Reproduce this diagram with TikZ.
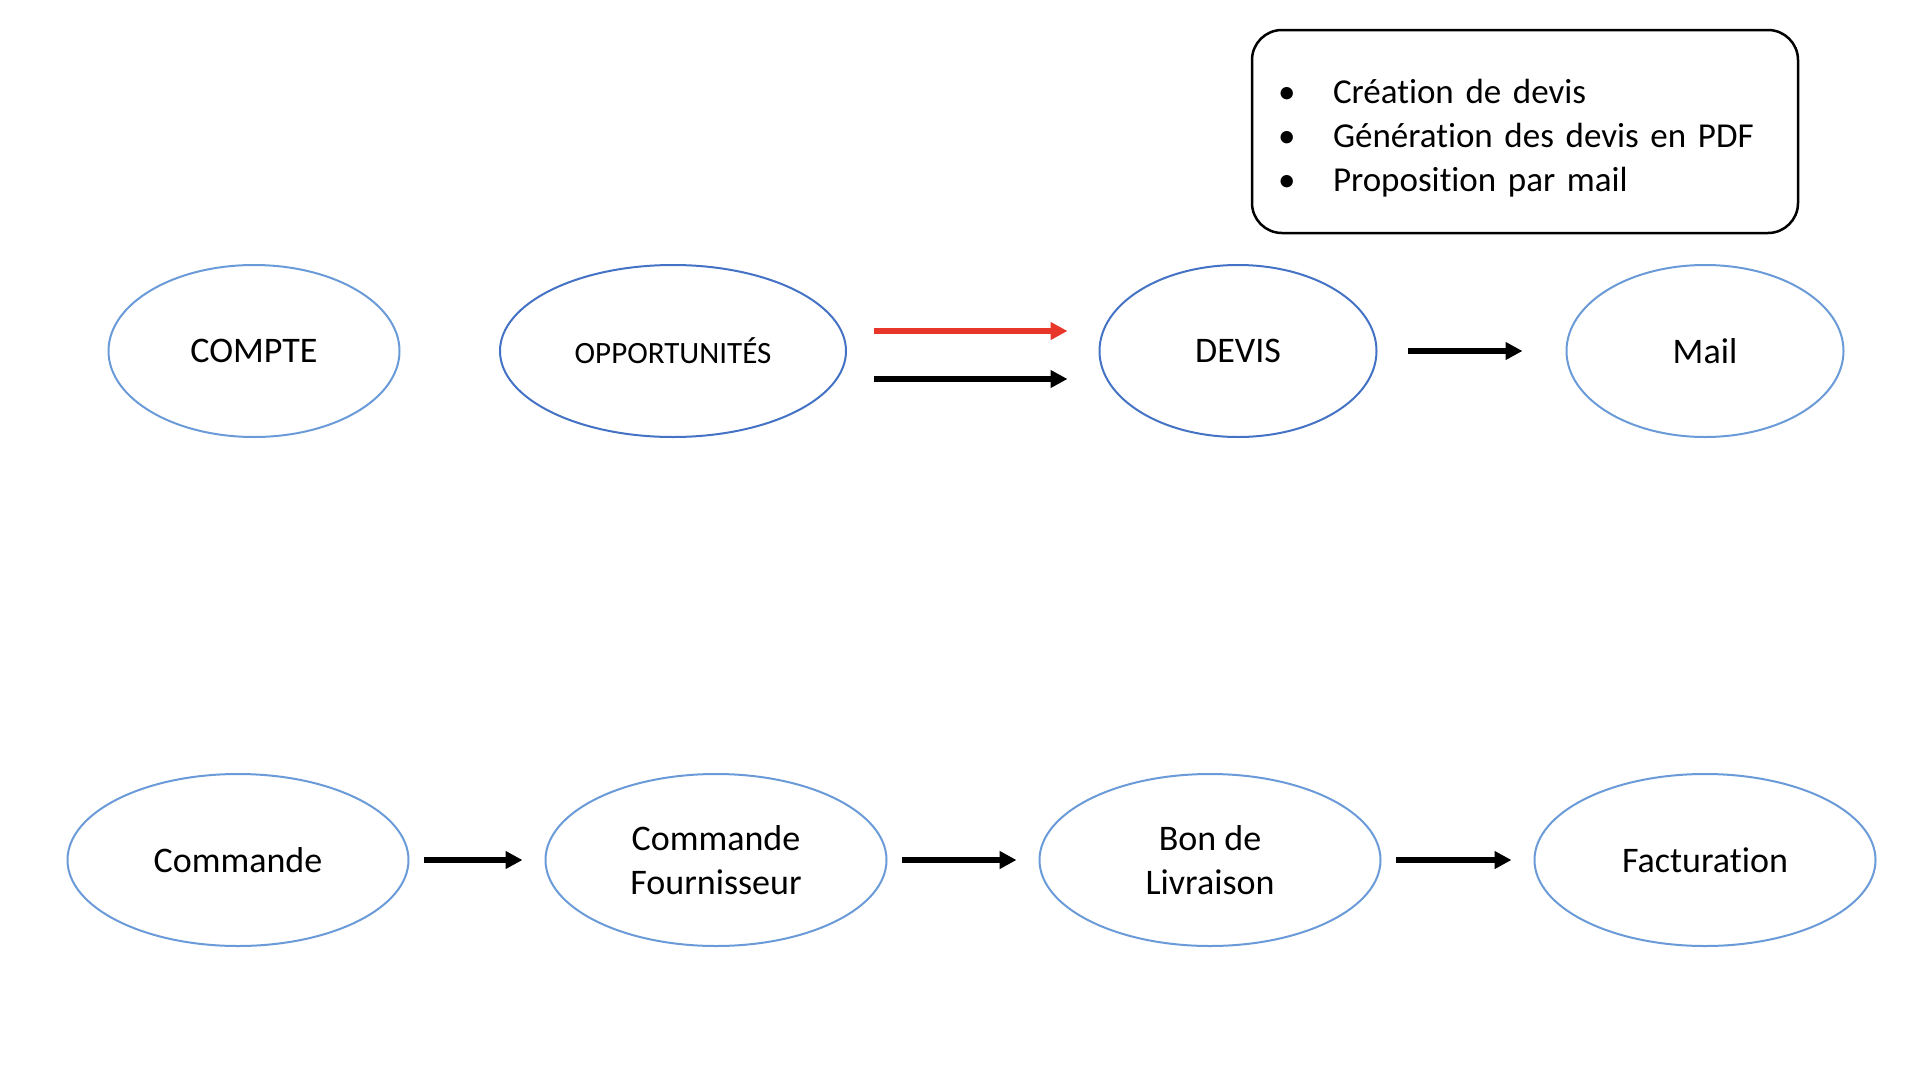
\documentclass[tikz,border=0pt]{standalone}
\usepackage{fontspec}
\setmainfont{Carlito}[Ligatures=NoCommon]
\usetikzlibrary{shapes.geometric, arrows.meta, positioning}
\definecolor{lightblue}{HTML}{6A9BD8}
\definecolor{darkblue}{HTML}{4472C4}
\definecolor{flowred}{HTML}{E8372A}
\tikzset{>={Triangle[length=17pt,width=17pt]}}
\tikzset{
  etape/.style={ellipse, draw=lightblue, line width=2pt, inner sep=0pt,
    minimum width=277pt, minimum height=172pt, align=center,
    font=\fontsize{36}{44}\selectfont},
  fleche/.style={->, line width=6pt, shorten <=14pt, shorten >=22pt},
  notebox/.style={draw, line width=2.5pt, rounded corners=30pt,
    minimum width=546pt, minimum height=203pt, text width=494pt,
    inner xsep=26pt, align=left, font=\fontsize{35}{44}\selectfont}
}

\begin{document}
\begin{tikzpicture}[x=1pt, y=-1pt]
\useasboundingbox (0,0) rectangle (1922,1092);
% ligne du haut
\node[etape, minimum width=291pt] (compte) at (254,351) {COMPTE};
\node[etape, draw=darkblue, minimum width=346pt,
  font=\fontsize{31}{38}\selectfont] (opp) at (673,351) {OPPORTUNITÉS};
\node[etape, draw=darkblue] (devis) at (1238,351) {DEVIS};
\node[etape] (mail) at (1705,351) {Mail};
\node[notebox] (notes) at (1525,131.5)
  {\rule{0pt}{38pt}\makebox[55pt][l]{•}Création de devis\\
   \makebox[55pt][l]{•}Génération des devis en PDF\\
   \makebox[55pt][l]{•}Proposition par mail};
\draw[fleche, flowred, shorten <=27pt, shorten >=31pt]
  ([yshift=20pt]opp.east) -- ([yshift=20pt]devis.west);
\draw[fleche, shorten <=27pt, shorten >=31pt]
  ([yshift=-28pt]opp.east) -- ([yshift=-28pt]devis.west);
\draw[fleche, shorten <=30pt, shorten >=43pt] (devis) -- (mail);
% ligne du bas
\node[etape, minimum width=341pt] (cmd) at (238,860) {Commande};
\node[etape, minimum width=341pt] (fourn) at (716,860) {Commande\\Fournisseur};
\node[etape, minimum width=341pt] (bl) at (1210,860) {Bon de\\Livraison};
\node[etape, minimum width=341pt] (fact) at (1705,860) {Facturation};
\draw[fleche] (cmd) -- (fourn);
\draw[fleche] (fourn) -- (bl);
\draw[fleche] (bl) -- (fact);
\end{tikzpicture}
\end{document}
